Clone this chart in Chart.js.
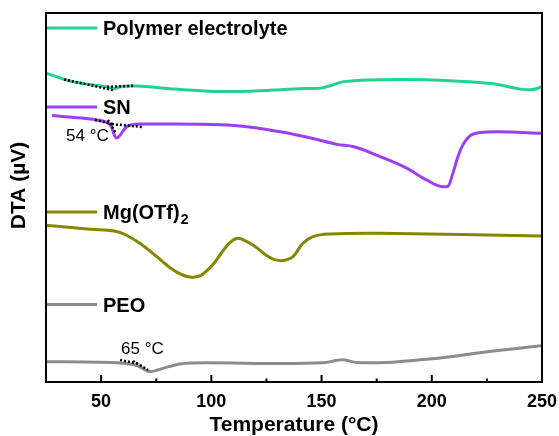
<!DOCTYPE html>
<html>
<head>
<meta charset="utf-8">
<script src="https://cdn.jsdelivr.net/npm/chart.js@4/dist/chart.umd.min.js"></script>
<style>
  html, body { margin: 0; padding: 0; background: #fff; }
  #wrap { width: 559px; height: 436px; position: relative; }
</style>
</head>
<body>
<div id="wrap"><canvas id="dta"></canvas></div>
<script>
// DTA traces (temperature in °C, signal in arbitrary µV offsets)
const peTemp = [25, 37, 45, 53, 56, 58, 66, 83, 107, 128, 140, 150, 155, 160, 186, 210, 228, 241, 245, 250];
const peDTA  = [83.7, 81.4, 80.6, 79.9, 79.5, 79.9, 80.2, 79.4, 78.7, 79.1, 79.5, 79.7, 80.5, 81.4, 82.0, 81.6, 80.8, 79.3, 79.2, 80.0];

const snTemp = [27.7, 35, 46.3, 52.7, 54.5, 56.3, 57.2, 58.6, 61.7, 67.6, 82.6, 113, 131.2, 146.1, 157, 164.3, 176.5, 188.8, 197.8, 205.1, 207.4, 209.6, 211.9, 213.7, 217.3, 221.9, 229.6, 250];
const snDTA  = [72.2, 71.8, 71.2, 70.3, 69.4, 66.5, 66.1, 66.9, 69.2, 69.9, 69.9, 69.4, 67.8, 66.0, 64.4, 63.8, 61.1, 57.9, 54.7, 52.9, 53.1, 56.6, 61.1, 63.8, 66.7, 67.6, 67.8, 67.4];

const mgTemp = [25, 45, 56, 61, 67.6, 75.4, 82.6, 87, 91.1, 95, 98, 101.5, 104.5, 108, 111.5, 115, 118.9, 124.8, 128, 131.2, 134, 137.1, 141.6, 146.1, 153.8, 176.5, 250];
const mgDTA  = [42.5, 41.4, 40.9, 39.9, 37.6, 33.9, 30.4, 29.0, 28.4, 28.8, 30.2, 32.4, 34.9, 37.5, 38.9, 38.4, 37.1, 34.4, 33.3, 32.9, 33.1, 34.0, 37.6, 39.4, 40.1, 40.3, 39.6];

const peoTemp = [25, 59.9, 65.4, 67.6, 72.2, 78.1, 85.8, 98, 131.2, 150.7, 159.3, 166.1, 176.5, 194.7, 209.6, 225, 250];
const peoDTA  = [5.5, 5.1, 4.6, 4.1, 2.8, 3.7, 4.9, 5.2, 5.0, 5.2, 6.0, 5.3, 5.2, 6.0, 6.9, 8.2, 9.8];

// onset tangent constructions: [[T1, v1], [T2, v2]]
const peTangents  = [[[33.2, 82.0], [55.4, 79.1]], [[52.7, 80.0], [65.4, 80.3]]];
const snTangents  = [[[47.2, 71.0], [55.4, 69.9]], [[53.1, 71.0], [56.8, 67.3]], [[54.9, 69.9], [69.0, 69.1]]];
const peoTangents = [[[58.6, 5.96], [67.6, 4.9]], [[64.5, 5.7], [71.3, 3.25]]];

const xTicks = [50, 100, 150, 200, 250];
const xMinorTicks = [75, 125, 175, 225];

const seriesNames = ['Polymer electrolyte', 'SN', 'Mg(OTf)', 'PEO'];
const onsetLabels = ['54 °C', '65 °C'];

const colors = { pe: '#1fd48e', sn: '#9e3ef8', mg: '#868600', peo: '#8c8c8c' };
const FONT = "Arial, 'Liberation Sans', Helvetica, sans-serif";

const toXY = (xs, ys) => xs.map((x, i) => ({ x: x, y: ys[i] }));

function curve(label, xs, ys, color, smooth) {
  const ds = {
    label: label, data: toXY(xs, ys), borderColor: color, borderWidth: 3,
    pointRadius: 0, fill: false, order: 2
  };
  if (smooth) { ds.tension = 0.4; } else { ds.cubicInterpolationMode = 'monotone'; }
  return ds;
}
function tangent(seg) {
  return {
    label: 'tangent', data: seg.map(p => ({ x: p[0], y: p[1] })), borderColor: '#000',
    borderWidth: 2.5, borderDash: [2, 2], pointRadius: 0, fill: false, tension: 0, order: 1
  };
}

const datasets = [
  curve(seriesNames[0], peTemp, peDTA, colors.pe),
  curve(seriesNames[1], snTemp, snDTA, colors.sn),
  curve(seriesNames[2], mgTemp, mgDTA, colors.mg, true),
  curve(seriesNames[3], peoTemp, peoDTA, colors.peo),
  ...peTangents.map(tangent),
  ...snTangents.map(tangent),
  ...peoTangents.map(tangent)
];

// Frame, inward ticks, in-plot legend, onset labels and y title
const decorations = {
  id: 'decorations',
  afterDatasetsDraw(chart) {
    const { ctx, chartArea: a, scales } = chart;
    const xs = scales.x;
    ctx.save();
    ctx.strokeStyle = '#000';
    ctx.lineWidth = 2;
    ctx.strokeRect(a.left, a.top, a.right - a.left, a.bottom - a.top);
    ctx.beginPath();
    xTicks.forEach(t => { const px = xs.getPixelForValue(t); ctx.moveTo(px, a.bottom); ctx.lineTo(px, a.bottom - 7); });
    xMinorTicks.forEach(t => { const px = xs.getPixelForValue(t); ctx.moveTo(px, a.bottom); ctx.lineTo(px, a.bottom - 3.5); });
    ctx.stroke();

    // legend entries placed beside each trace
    const legendRows = [
      { name: seriesNames[0], color: colors.pe, y: 28 },
      { name: seriesNames[1], color: colors.sn, y: 107 },
      { name: seriesNames[2], color: colors.mg, y: 212, sub: '2' },
      { name: seriesNames[3], color: colors.peo, y: 304.5 }
    ];
    legendRows.forEach(r => {
      ctx.strokeStyle = r.color;
      ctx.lineWidth = 3;
      ctx.beginPath();
      ctx.moveTo(a.left + 1, r.y);
      ctx.lineTo(a.left + 51, r.y);
      ctx.stroke();
      ctx.fillStyle = '#000';
      ctx.font = 'bold 20px ' + FONT;
      ctx.textBaseline = 'alphabetic';
      ctx.textAlign = 'left';
      ctx.fillText(r.name, a.left + 57, r.y + 7);
      if (r.sub) {
        const w = ctx.measureText(r.name).width;
        ctx.font = 'bold 14px ' + FONT;
        ctx.fillText(r.sub, a.left + 57 + w + 1, r.y + 12);
      }
    });

    ctx.fillStyle = '#000';
    ctx.font = '17px ' + FONT;
    ctx.textAlign = 'left';
    ctx.textBaseline = 'alphabetic';
    ctx.fillText(onsetLabels[0], 66, 141);
    ctx.fillText(onsetLabels[1], 121, 354);

    ctx.font = 'bold 21px ' + FONT;
    ctx.textAlign = 'center';
    ctx.textBaseline = 'middle';
    ctx.translate(19, (a.top + a.bottom) / 2 - 12);
    ctx.rotate(-Math.PI / 2);
    ctx.fillText('DTA (\u00B5V)', 0, 0);
    ctx.restore();
  }
};

new Chart(document.getElementById('dta'), {
  type: 'line',
  data: { datasets: datasets },
  options: {
    responsive: true,
    maintainAspectRatio: false,
    animation: false,
    layout: { padding: { left: 46, top: 13, right: 17, bottom: 0 } },
    plugins: { legend: { display: false }, tooltip: { enabled: false } },
    scales: {
      x: {
        type: 'linear', min: 25, max: 250,
        afterBuildTicks: s => { s.ticks = xTicks.map(v => ({ value: v })); },
        afterFit: s => { s.height = 54; s.paddingLeft = 0; s.paddingRight = 0; },
        grid: { display: false, drawTicks: false },
        border: { display: false },
        ticks: { color: '#000', font: { family: FONT, size: 18, weight: 'bold' }, padding: 9, maxRotation: 0 },
        title: { display: true, text: 'Temperature (°C)', color: '#000',
                 font: { family: FONT, size: 21, weight: 'bold', lineHeight: 1 }, padding: { top: 0, bottom: 0 } }
      },
      y: { display: false, min: 0, max: 100 }
    }
  },
  plugins: [decorations]
});
</script>
</body>
</html>
